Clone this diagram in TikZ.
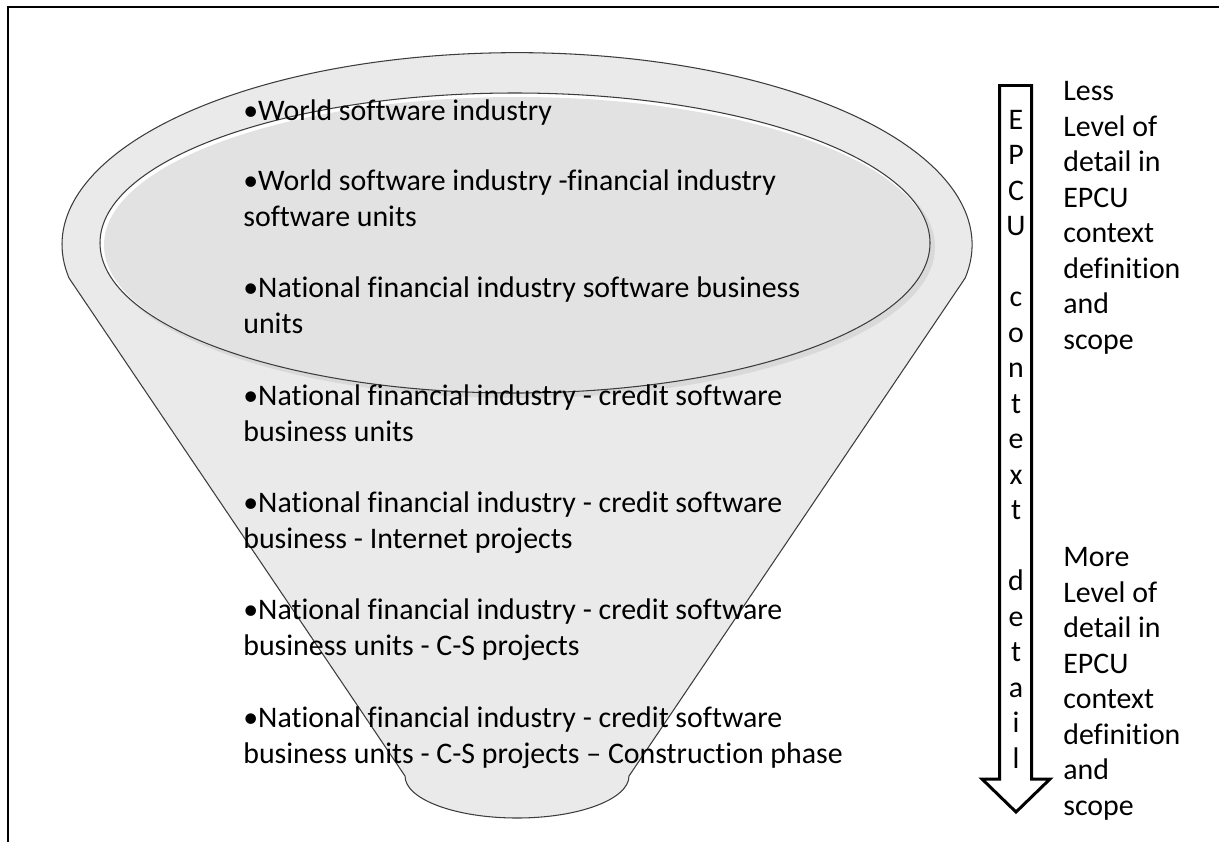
\documentclass[tikz,border=0pt]{standalone}
\usepackage{fontspec}
\setmainfont{Carlito}[Ligatures=NoCommon]
\usetikzlibrary{positioning}

\definecolor{funnelgray}{HTML}{EAEAEA}
\definecolor{discgray}{HTML}{E2E2E2}
\definecolor{shadowgray}{HTML}{D9D9D9}
\definecolor{edgegray}{HTML}{3C3C3C}

\begin{document}
\begin{tikzpicture}[
    x=0.02cm, y=0.02cm,
    every node/.style={font=\fontsize{17}{20.2}\selectfont, inner sep=0pt, text=black},
    item/.style={anchor=base west, align=left},
    sidenote/.style={anchor=base west, align=left},
    funnel/.style={fill=funnelgray, draw=edgegray, line width=0.6pt},
    bigarrow/.style={draw=black, fill=white, line width=1.7pt, line join=miter}
  ]
  \useasboundingbox (0,0) rectangle (1219,-842);
  % frame
  \draw[line width=1.2pt] (8,-842) -- (8,-7) -- (1219,-7);

  % funnel body
  \path[funnel] (69,-278) arc[start angle=190, end angle=-10, x radius=455, y radius=192]
    -- (629,-776) arc[start angle=0, end angle=-180, x radius=112, y radius=42] -- cycle;

  % mouth of the funnel
  \fill[shadowgray] (519,-247) ellipse[x radius=416, y radius=151];
  \fill[white] (515,-243) ellipse[x radius=415, y radius=150];
  \fill[discgray] (517,-245) ellipse[x radius=413, y radius=148];
  \draw[edgegray, line width=0.6pt] (515,-243) ellipse[x radius=415, y radius=150];

  % levels (placed at the baseline of their last line)
  \node[item] (world) at (243,-120) {•World software industry};
  \node[item] (worldfin) at (243,-226) {•World software industry -financial industry\\software units};
  \node[item] (natsoft) at (243,-333) {•National financial industry software business\\units};
  \node[item] (natcredit) at (243,-441) {•National financial industry - credit software\\business units};
  \node[item] (natweb) at (243,-548) {•National financial industry - credit software\\business - Internet projects};
  \node[item] (natcs) at (243,-655) {•National financial industry - credit software\\business units - C-S projects};
  \node[item] (natbuild) at (243,-763) {•National financial industry - credit software\\business units - C-S projects – Construction phase};

  % detail arrow
  \draw[bigarrow] (999.5,-85.5) -- (1031.5,-85.5) -- (1031.5,-779) -- (1050,-779)
    -- (1016,-812) -- (982,-779) -- (999.5,-779) -- cycle;
  \node[anchor=base, align=center] (epcu) at (1016,-768)
    {E\\P\\C\\U\\\mbox{}\\c\\o\\n\\t\\e\\x\\t\\\mbox{}\\d\\e\\t\\a\\i\\l};

  % side notes
  \node[sidenote] (less) at (1063,-349) {Less\\Level of\\detail in\\EPCU\\context\\definition\\and\\scope};
  \node[sidenote] (more) at (1063,-815) {More\\Level of\\detail in\\EPCU\\context\\definition\\and\\scope};
\end{tikzpicture}
\end{document}
